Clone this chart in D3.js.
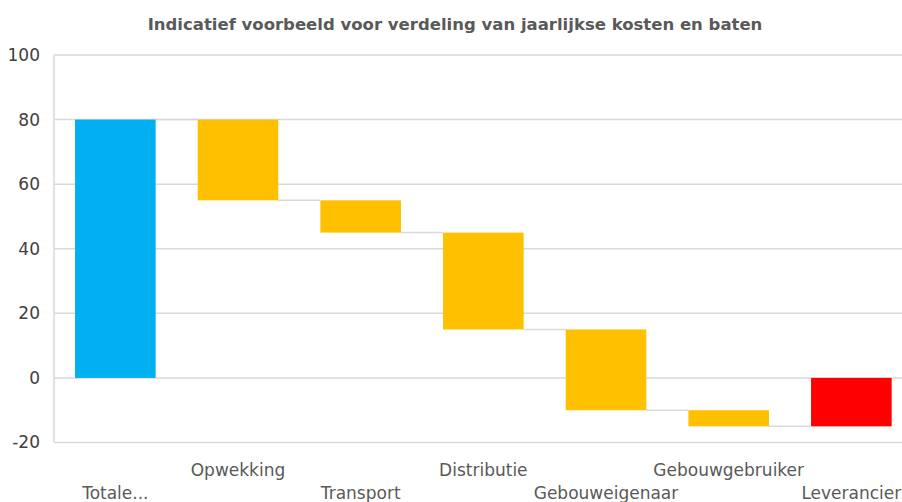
<!DOCTYPE html>
<html><head><meta charset="utf-8">
<script src="https://cdn.jsdelivr.net/npm/d3@7"></script>
<style>body{margin:0;background:#fff}svg{display:block}</style>
</head><body>
<script>
const categories = ["Totale...", "Opwekking", "Transport", "Distributie", "Gebouweigenaar", "Gebouwgebruiker", "Leverancier"];
const barFrom = [0, 80, 55, 45, 15, -10, -15];
const barTo   = [80, 55, 45, 15, -10, -15, 0];
const barKind = ["total", "cost", "cost", "cost", "cost", "cost", "end"];
const yTicks = [-20, 0, 20, 40, 60, 80, 100];
const title = "Indicatief voorbeeld voor verdeling van jaarlijkse kosten en baten";

(function(){
const W = 902, H = 502;
const mLeft = 54, mRight = 912.7, mTop = 55, mBottom = 442.5;
const colors = {total: "#00B0F0", cost: "#FFC000", end: "#FF0000"};
const font = "'DejaVu Sans', sans-serif";

const svg = d3.select("body").append("svg").attr("width", W).attr("height", H);

const x = d3.scaleBand().domain(categories).range([mLeft, mRight]).paddingInner(0.343).paddingOuter(0.1715);
const y = d3.scaleLinear().domain([-20, 100]).range([mBottom, mTop]);

svg.append("g").selectAll("line").data(yTicks).join("line")
  .attr("x1", mLeft).attr("x2", mRight)
  .attr("y1", d => y(d)).attr("y2", d => y(d))
  .attr("stroke", "#d9d9d9").attr("stroke-width", 1.5);
svg.append("line").attr("x1", mLeft).attr("x2", mLeft).attr("y1", y(100)).attr("y2", y(-20))
  .attr("stroke", "#d9d9d9").attr("stroke-width", 1.5);

const yAxis = d3.axisLeft(y).tickValues(yTicks).tickSize(0).tickPadding(14).tickFormat(d => String(d));
const ga = svg.append("g").attr("transform", `translate(${mLeft},0)`).call(yAxis);
ga.select(".domain").remove();
ga.selectAll("text").attr("font-family", font).attr("font-size", 17).attr("fill", "#404040");

const conn = d3.range(categories.length - 1).map(i => ({i, v: barTo[i]}));
svg.append("g").selectAll("line").data(conn).join("line")
  .attr("x1", d => x(categories[d.i]) + x.bandwidth())
  .attr("x2", d => x(categories[d.i + 1]))
  .attr("y1", d => y(d.v)).attr("y2", d => y(d.v))
  .attr("stroke", "#d9d9d9").attr("stroke-width", 1.5);

svg.append("g").selectAll("rect").data(categories).join("rect")
  .attr("x", d => x(d))
  .attr("width", x.bandwidth())
  .attr("y", (d, i) => y(Math.max(barFrom[i], barTo[i])))
  .attr("height", (d, i) => Math.abs(y(barFrom[i]) - y(barTo[i])))
  .attr("fill", (d, i) => colors[barKind[i]]);

svg.append("g").selectAll("text").data(categories).join("text")
  .attr("x", d => x(d) + x.bandwidth() / 2)
  .attr("y", (d, i) => i % 2 === 0 ? 499 : 476)
  .attr("text-anchor", "middle")
  .attr("font-family", font).attr("font-size", 17).attr("fill", "#595959")
  .text(d => d);

svg.append("text").attr("x", 455).attr("y", 30).attr("text-anchor", "middle")
  .attr("font-family", font).attr("font-size", 16.5).attr("font-weight", "bold").attr("fill", "#595959")
  .text(title);
})();
</script>
</body></html>
